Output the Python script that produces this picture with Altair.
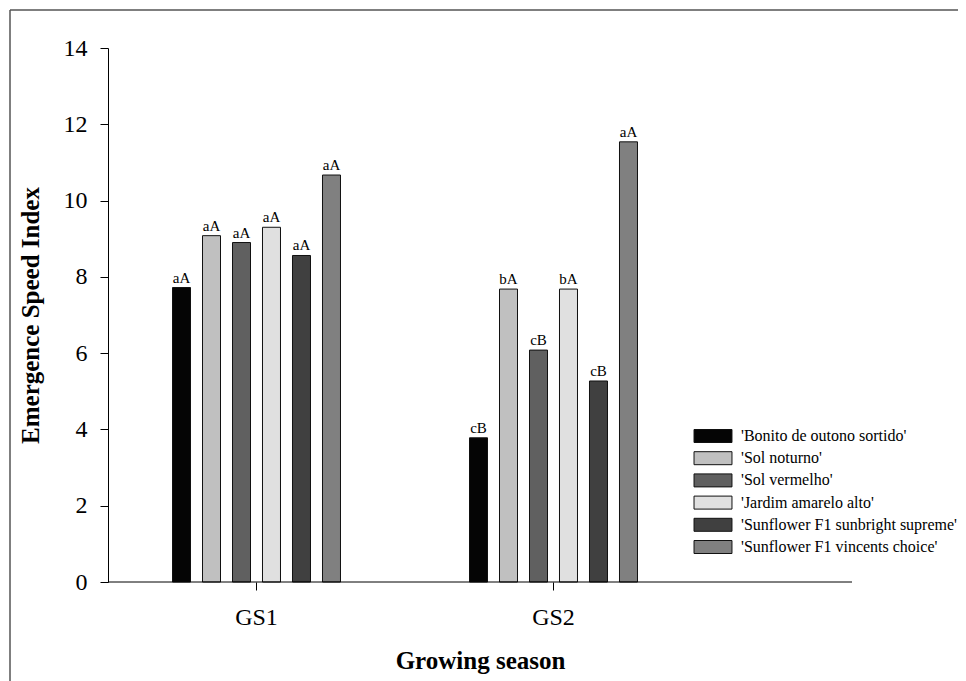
import altair as alt
import pandas as pd

seasons = ["GS1", "GS2"]
cultivars = [
    "'Bonito de outono sortido'",
    "'Sol noturno'",
    "'Sol vermelho'",
    "'Jardim amarelo alto'",
    "'Sunflower F1 sunbright supreme'",
    "'Sunflower F1 vincents choice'",
]
gs1_values = [7.72, 9.08, 8.90, 9.30, 8.56, 10.67]
gs2_values = [3.78, 7.68, 6.08, 7.68, 5.27, 11.54]
gs1_letters = ["aA", "aA", "aA", "aA", "aA", "aA"]
gs2_letters = ["cB", "bA", "cB", "bA", "cB", "aA"]
fills = ["#050505", "#c0c0c0", "#606060", "#e0e0e0", "#404040", "#808080"]
y_ticks = [0, 2, 4, 6, 8, 10, 12, 14]

rows = []
for s, vals, lets in [("GS1", gs1_values, gs1_letters), ("GS2", gs2_values, gs2_letters)]:
    for c, v, l in zip(cultivars, vals, lets):
        rows.append({"season": s, "cultivar": c, "value": v, "letter": l})
df = pd.DataFrame(rows)

W, H = 744, 534
FONT = "Liberation Serif"

x_scale = alt.Scale(domain=seasons, range=[0, 594], paddingInner=0.394, paddingOuter=0.197)
y_scale = alt.Scale(domain=[0, 14], nice=False)

x_enc = alt.X(
    "season:N",
    scale=x_scale,
    axis=alt.Axis(
        title="Growing season",
        domain=False,
        labelAngle=0,
        tickSize=8,
        tickColor="#000",
        labelFont=FONT,
        labelFontSize=24,
        labelColor="#000",
        labelPadding=15,
        titleFont=FONT,
        titleFontSize=25,
        titleFontWeight="bold",
        titleColor="#000",
        titlePadding=19,
        titleX=W / 2,
        titleAlign="center",
    ),
)
xoff_enc = alt.XOffset(
    "cultivar:N",
    scale=alt.Scale(domain=cultivars, paddingInner=0.4, paddingOuter=0.2),
)
y_enc = alt.Y(
    "value:Q",
    scale=y_scale,
    axis=alt.Axis(
        title="Emergence Speed Index",
        values=y_ticks,
        grid=False,
        tickSize=8,
        tickColor="#000",
        domainColor="#000",
        labelFont=FONT,
        labelFontSize=24,
        labelColor="#000",
        labelPadding=13,
        titleFont=FONT,
        titleFontSize=25,
        titleFontWeight="bold",
        titleColor="#000",
        titlePadding=20,
    ),
)

base = alt.Chart(df)

bars = base.mark_bar(stroke="#111", strokeWidth=1, opacity=1).encode(
    x=x_enc,
    xOffset=xoff_enc,
    y=y_enc,
    fill=alt.Fill(
        "cultivar:N",
        scale=alt.Scale(domain=cultivars, range=fills),
        legend=alt.Legend(
            title=None,
            orient="none",
            legendX=597,
            legendY=380,
            symbolType="M-2.92,-1L2.92,-1L2.92,1L-2.92,1Z",
            symbolSize=169,
            symbolStrokeColor="#111",
            symbolStrokeWidth=1,
            symbolOpacity=1,
            labelFont=FONT,
            labelFontSize=16,
            labelColor="#000",
            labelOffset=20,
            labelLimit=400,
            rowPadding=4.2,
        ),
    ),
)

texts = base.mark_text(baseline="bottom", dy=-2, font=FONT, fontSize=15, color="#000").encode(
    x=alt.X("season:N", scale=x_scale),
    xOffset=xoff_enc,
    y=alt.Y("value:Q", scale=y_scale),
    text="letter:N",
)

one = pd.DataFrame({"k": [0]})
x_axis_line = alt.Chart(one).mark_rule(color="#000", strokeWidth=1).encode(
    x=alt.value(0), x2=alt.value(W), y=alt.value(H)
)
frame_left = alt.Chart(one).mark_rule(color="#555", strokeWidth=1.5).encode(
    x=alt.value(-98), y=alt.value(-38), y2=alt.value(H + 200)
)
frame_top = alt.Chart(one).mark_rule(color="#555", strokeWidth=1.5).encode(
    x=alt.value(-98), x2=alt.value(W + 300), y=alt.value(-38)
)

chart = (
    alt.layer(frame_left, frame_top, bars, texts, x_axis_line)
    .properties(
        width=W,
        height=H,
        autosize=alt.AutoSizeParams(type="none"),
        padding={"left": 100, "top": 40, "right": 106, "bottom": 100},
    )
    .configure(background="white", font=FONT)
    .configure_legend(labelFont=FONT)
    .configure_view(stroke=None)
)

chart.save("out.html", embed_options={"renderer": "svg", "actions": False})
